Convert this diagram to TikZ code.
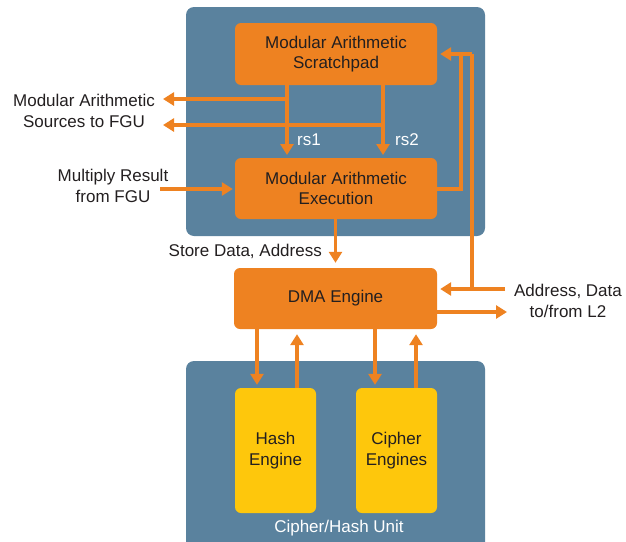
\documentclass[tikz,border=0pt]{standalone}
\usepackage{fontspec}
\setmainfont{Liberation Sans}
\usetikzlibrary{arrows.meta,calc}
\definecolor{panelblue}{HTML}{5A829E}
\definecolor{boxorange}{HTML}{EE8221}
\definecolor{boxyellow}{HTML}{FEC70C}
\definecolor{txtdark}{HTML}{231F20}
\begin{document}
\begin{tikzpicture}[x=1pt,y=-1pt,
  font=\fontsize{17}{20.5}\selectfont,
  panel/.style={fill=panelblue,rounded corners=8pt,inner sep=0pt},
  obox/.style={fill=boxorange,rounded corners=6pt,text=txtdark,align=center,inner sep=0pt,minimum width=202pt,minimum height=62pt},
  ybox/.style={fill=boxyellow,rounded corners=6pt,text=txtdark,align=center,inner sep=0pt,minimum width=81pt,minimum height=125pt},
  lbl/.style={text=txtdark,align=center,inner sep=0pt},
  wlbl/.style={text=white,align=center,inner sep=0pt},
  wire/.style={draw=boxorange,line width=3.4pt},
  arr/.style={wire,-{Triangle[length=11pt,width=13pt]}}]
\useasboundingbox (0,0) rectangle (626,541);
\clip (0,0) rectangle (626,541);
% panels
\node[panel,minimum width=299pt,minimum height=229pt] (p1) at (335.5,121.5) {};
\node[panel,minimum width=299pt,minimum height=200pt] (p2) at (335.5,461) {};
% boxes
\node[obox] (sp) at (336,54) {Modular Arithmetic\\Scratchpad};
\node[obox,minimum height=61pt] (ex) at (336,188.5) {Modular Arithmetic\\Execution};
\node[obox,minimum width=203pt,minimum height=61pt] (dma) at (335.5,298.5) {DMA Engine};
\node[ybox] (hash) at (275.5,450.5) {Hash\\Engine};
\node[ybox] (ciph) at (396.5,450.5) {Cipher\\Engines};
% labels
\node[lbl] (src) at (84,111) {Modular Arithmetic\\Sources to FGU};
\node[lbl] (mul) at (113,186) {Multiply Result\\from FGU};
\node[lbl,anchor=east] (sto) at (322,251) {Store Data, Address};
\node[lbl] (l2) at (568,301) {Address, Data\\to/from L2};
\node[wlbl] (rs1) at (309,140) {rs1};
\node[wlbl] (rs2) at (407,140) {rs2};
\node[wlbl] (chu) at (339,528) {Cipher/Hash Unit};
% coordinates
\coordinate (r1) at (287,85);
\coordinate (r1e) at (287,155);
\coordinate (r2) at (383,85);
\coordinate (r2e) at (383,155);
\coordinate (j1) at (287,99);
\coordinate (s1) at (163,99);
\coordinate (j2) at (383,125);
\coordinate (s2) at (163,125);
\coordinate (m0) at (160,189);
\coordinate (f1) at (461,189);
\coordinate (f2) at (461,54);
\coordinate (g1) at (472,289);
\coordinate (g2) at (472,54);
\coordinate (a0) at (505,289);
\coordinate (o0) at (437,312);
\coordinate (o1) at (507,312);
% connectors
\draw[arr] (r1) -- (r1e);
\draw[arr] (r2) -- (r2e);
\draw[arr] (j1) -- (s1);
\draw[arr] (j2) -- (s2);
\draw[arr,shorten >=2pt] (m0) -- (ex.west |- m0);
\draw[wire] (ex.east |- f1) -- (f1) -- (f2);
\draw[arr,shorten >=3pt] (g2) -- (sp.east);
\draw[wire] (g1) -- (g2);
\draw[arr,shorten >=3pt] (a0) -- (dma.east |- a0);
\draw[arr] (o0) -- (o1);
\draw[arr,shorten >=5pt] (ex.south -| dma.north) -- (dma.north);
\draw[arr,shorten >=3pt] (dma.south -| 257,0) -- (hash.north -| 257,0);
\draw[arr,shorten >=5pt] (hash.north -| 297,0) -- (dma.south -| 297,0);
\draw[arr,shorten >=3pt] (dma.south -| 375,0) -- (ciph.north -| 375,0);
\draw[arr,shorten >=5pt] (ciph.north -| 416,0) -- (dma.south -| 416,0);
\end{tikzpicture}
\end{document}
